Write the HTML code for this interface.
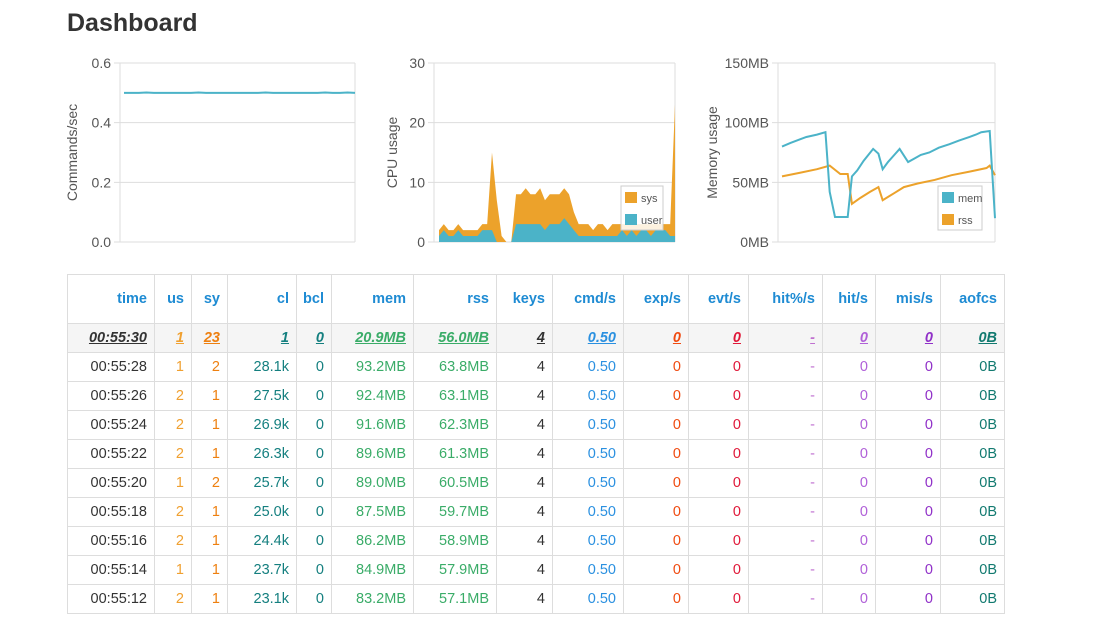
<!DOCTYPE html>
<html><head><meta charset="utf-8">
<style>
body{margin:0;width:1097px;height:636px;background:#fff;font-family:"Liberation Sans",Arial,sans-serif;position:relative;overflow:hidden}
h1{position:absolute;left:67px;top:9px;margin:0;font-size:25px;font-weight:bold;color:#333}
svg{position:absolute;left:0;top:0}
table{position:absolute;left:67px;top:274px;border-collapse:collapse;table-layout:fixed;width:938px;font-size:14.5px}
td,th{border:1px solid #ddd;text-align:right;padding:0 7px 0 0;height:28px}
th{height:48px;color:#1e8bd3;font-weight:bold;padding-top:0}
tr.hl td{background:#f5f5f5;font-style:italic;font-weight:bold;text-decoration:underline}
.c0{color:#333}.c1{color:#f0a030}.c2{color:#ee8010}.c3{color:#147f7f}.c4{color:#147f7f}.c5{color:#3aac68}.c6{color:#3aac68}.c7{color:#333}.c8{color:#2a90e0}.c9{color:#f04a10}.c10{color:#e01838}.c11{color:#c070d0}.c12{color:#b060d8}.c13{color:#9030c8}.c14{color:#127a70}
</style></head><body>
<h1>Dashboard</h1>
<svg id="charts" width="1097" height="270"></svg>
<table id="tbl">
<colgroup><col style="width:87px"><col style="width:37px"><col style="width:36px"><col style="width:69px"><col style="width:35px"><col style="width:82px"><col style="width:83px"><col style="width:56px"><col style="width:71px"><col style="width:65px"><col style="width:60px"><col style="width:74px"><col style="width:53px"><col style="width:65px"><col style="width:64px"></colgroup>
<thead><tr id="hdr"></tr></thead><tbody id="tb"></tbody></table>
<script>
const NS='http://www.w3.org/2000/svg';
const svg=document.getElementById('charts');
function mk(t,a,p){const e=document.createElementNS(NS,t);for(const k in a)e.setAttribute(k,a[k]);(p||svg).appendChild(e);return e;}
// data
const cmdVals=[0.5,0.5,0.5,0.501,0.5,0.5,0.5,0.5,0.5,0.5,0.501,0.5,0.5,0.5,0.5,0.5,0.5,0.5,0.5,0.501,0.5,0.5,0.5,0.5,0.5,0.5,0.5,0.501,0.5,0.5,0.501,0.5];
const cpuTicks=[0,10,20,30];
const cpuUser=[1,2,1,1,2,1,1,1,1,2,2,2,0,0,0,0,3,3,3,3,3,3,2,3,3,3,4,3,2,1,1,1,1,1,1,1,1,1,2,1,2,1,2,2,1,2,2,2,1,1];
const cpuTotal=[2,3,2,2,3,2,2,2,2,3,3,15,7,1,0,0,8,8,9,8,8,9,7,8,8,8,9,8,5,3,3,3,2,3,3,2,3,3,3,3,3,3,3,3,3,3,3,3,3,23];
const memT=[0,8,17,23,33,41,45,50,55,62,66,71,77,86,91,95,100,106,111,119,125,131,139,148,158,167,177,183,188,196,201];
const memMem=[80,83,86,88,90,92,42,21,21,21,55,60,68,78,74,61,67,73,78,67,70,73,75,79,82,85,88,90,92,93,20];
const rssT=[0,17,33,45,55,62,66,74,83,91,95,106,115,128,144,160,177,193,196,201];
const rssVals=[55,58,61,64,57,57,32,37,42,46,35,41,46,49,52,56,59,62,64,56];
const cmdTicks=[0,0.2,0.4,0.6];
const memTicks=[0,50,100,150];
const TEAL='#4bb3c8',ORANGE='#eca22b';
function frame(x0,x1,y0,y1,ticks,max,fmt,title,tx,name){
  const g=mk('g',{});
  
  
  ticks.forEach(t=>{const y=y1-(t/max)*(y1-y0);
    mk('line',{x1:x0-6,x2:x1,y1:y,y2:y,stroke:'#ddd'},g);
    const tl=mk('text',{x:x0-9,y:y+5,'text-anchor':'end','font-size':14,fill:'#555'},g);tl.textContent=fmt(t);});
  mk('line',{x1:x0,x2:x0,y1:y0,y2:y1,stroke:'#ddd'},g);
  mk('line',{x1:x1,x2:x1,y1:y0,y2:y1,stroke:'#ddd'},g);
  const tt=mk('text',{x:0,y:0,'text-anchor':'middle','font-size':14,fill:'#555',transform:`translate(${tx},${(y0+y1)/2}) rotate(-90)`},g);
  tt.textContent=title;
  return g;
}
// chart 1
(function(){const x0=120,x1=355,y0=63,y1=242,max=0.6;
 const g=frame(x0,x1,y0,y1,cmdTicks,max,v=>v.toFixed(1),'Commands/sec',77,'commands-chart');
 const sx=i=>x0+4+i*(x1-x0-4)/(cmdVals.length-1),sy=v=>y1-v/max*(y1-y0);
 const p=mk('polyline',{points:cmdVals.map((v,i)=>sx(i)+','+sy(v)).join(' '),fill:'none',stroke:TEAL,'stroke-width':2},g);
 })();
// chart 2
(function(){const x0=434,x1=675,y0=63,y1=242,max=30;
 const g=frame(x0,x1,y0,y1,cpuTicks,max,v=>v,'CPU usage',397,'cpu-chart');
 const sx=i=>x0+5+i*(x1-x0-5)/(cpuTotal.length-1),sy=v=>y1-v/max*(y1-y0);
 const area=a=>`M${sx(0)},${y1} `+a.map((v,i)=>`L${sx(i)},${sy(v)}`).join(' ')+` L${sx(a.length-1)},${y1}Z`;
 let s=mk('path',{d:area(cpuTotal),fill:ORANGE},g);
 let u=mk('path',{d:area(cpuUser),fill:TEAL},g);
 const lg=mk('g',{},g);
 mk('rect',{x:621,y:186,width:42,height:44,fill:'#fff','fill-opacity':0.85,stroke:'#ccc'},lg);
 mk('rect',{x:625,y:192,width:12,height:11,fill:ORANGE},lg);mk('rect',{x:625,y:214,width:12,height:11,fill:TEAL},lg);
 let t=mk('text',{x:641,y:202,'font-size':11,fill:'#555'},lg);t.textContent='sys';
 t=mk('text',{x:641,y:224,'font-size':11,fill:'#555'},lg);t.textContent='user';})();
// chart 3
(function(){const x0=778,x1=995,y0=63,y1=242,max=150;
 const g=frame(x0,x1,y0,y1,memTicks,max,v=>v+'MB','Memory usage',717,'memory-chart');
 const tmax=201,sx=t=>x0+4+t/tmax*(x1-x0-4),sy=v=>y1-v/max*(y1-y0);
 let r=mk('polyline',{points:rssT.map((t,i)=>sx(t)+','+sy(rssVals[i])).join(' '),fill:'none',stroke:ORANGE,'stroke-width':2},g);
 
 let m=mk('polyline',{points:memT.map((t,i)=>sx(t)+','+sy(memMem[i])).join(' '),fill:'none',stroke:TEAL,'stroke-width':2},g);
 
 const lg=mk('g',{},g);
 mk('rect',{x:938,y:186,width:44,height:44,fill:'#fff','fill-opacity':0.85,stroke:'#ccc'},lg);
 mk('rect',{x:942,y:192,width:12,height:11,fill:TEAL},lg);mk('rect',{x:942,y:214,width:12,height:11,fill:ORANGE},lg);
 let t=mk('text',{x:958,y:202,'font-size':11,fill:'#555'},lg);t.textContent='mem';
 t=mk('text',{x:958,y:224,'font-size':11,fill:'#555'},lg);t.textContent='rss';})();
// table
const heads=['time','us','sy','cl','bcl','mem','rss','keys','cmd/s','exp/s','evt/s','hit%/s','hit/s','mis/s','aofcs'];
const rows=[
['00:55:30','1','23','1','0','20.9MB','56.0MB','4','0.50','0','0','-','0','0','0B'],
['00:55:28','1','2','28.1k','0','93.2MB','63.8MB','4','0.50','0','0','-','0','0','0B'],
['00:55:26','2','1','27.5k','0','92.4MB','63.1MB','4','0.50','0','0','-','0','0','0B'],
['00:55:24','2','1','26.9k','0','91.6MB','62.3MB','4','0.50','0','0','-','0','0','0B'],
['00:55:22','2','1','26.3k','0','89.6MB','61.3MB','4','0.50','0','0','-','0','0','0B'],
['00:55:20','1','2','25.7k','0','89.0MB','60.5MB','4','0.50','0','0','-','0','0','0B'],
['00:55:18','2','1','25.0k','0','87.5MB','59.7MB','4','0.50','0','0','-','0','0','0B'],
['00:55:16','2','1','24.4k','0','86.2MB','58.9MB','4','0.50','0','0','-','0','0','0B'],
['00:55:14','1','1','23.7k','0','84.9MB','57.9MB','4','0.50','0','0','-','0','0','0B'],
['00:55:12','2','1','23.1k','0','83.2MB','57.1MB','4','0.50','0','0','-','0','0','0B']];
const hdr=document.getElementById('hdr');
heads.forEach(h=>{const th=document.createElement('th');th.textContent=h;
 
 hdr.appendChild(th);});
const tb=document.getElementById('tb');
rows.forEach((r,ri)=>{const tr=document.createElement('tr');if(ri===0)tr.className='hl';
 
 
 r.forEach((c,ci)=>{const td=document.createElement('td');td.textContent=c;td.className='c'+ci;tr.appendChild(td);});
 tb.appendChild(tr);});
</script>
</body></html>
